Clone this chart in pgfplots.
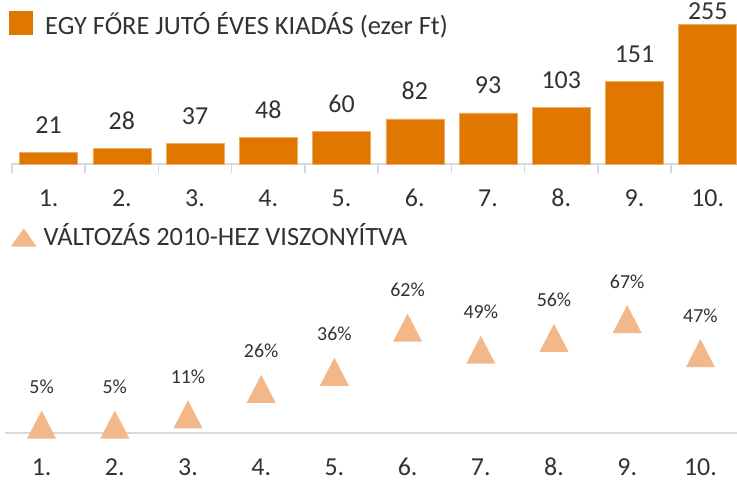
\documentclass[border=0pt]{standalone}
\usepackage{fontspec}
\setmainfont{Carlito}
\usepackage{pgfplots}
\pgfplotsset{compat=1.18}

\definecolor{barorange}{RGB}{224,120,0}
\definecolor{trilight}{RGB}{242,184,138}
\definecolor{txt}{RGB}{50,50,50}
\definecolor{axgray}{RGB}{217,217,217}

\newcommand\bigf{\fontsize{26}{31}\selectfont}
\newcommand\legf{\fontsize{26.5}{31}\selectfont}
\newcommand\pctf{\fontsize{20}{24}\selectfont}

% triangle centred on its bounding box, as Excel draws it
\pgfdeclareplotmark{tri}{%
  \pgfpathmoveto{\pgfpoint{-14.5bp}{-14bp}}%
  \pgfpathlineto{\pgfpoint{14.5bp}{-14bp}}%
  \pgfpathlineto{\pgfpoint{0bp}{14bp}}%
  \pgfpathclose\pgfusepathqfill}

\pgfplotsset{
  panel/.style={
    scale only axis, clip=false,
    axis x line*=bottom, axis y line=none,
    x axis line style={axgray, line width=2bp},
    xtick={0,...,9},
    xticklabels={1.,2.,3.,4.,5.,6.,7.,8.,9.,10.},
    major tick length=0bp,
    tick style={axgray, line width=1.5bp},
    /pgf/number format/assume math mode=true,
  },
}

\begin{document}
\begin{tikzpicture}
\useasboundingbox (0,0) rectangle (737bp,481bp);

% upper panel: yearly spending per head
\begin{axis}[panel,
  at={(12bp,317bp)}, anchor=south west,
  width=725bp, height=153.7bp,
  xmin=-0.5, xmax=9.4, ymin=0, ymax=280,
  xticklabel style={font=\bigf, text=txt, anchor=base, yshift=-43bp},
  extra x ticks={-0.5,0.5,1.5,2.5,3.5,4.5,5.5,6.5,7.5,8.5},
  extra x tick labels={},
  extra x tick style={major tick length=9bp, tick align=outside},
]
\addplot[ybar, bar shift=0pt, bar width=58bp, fill=barorange,
  draw=barorange!60!white, line width=0.5bp,
  nodes near coords,
  nodes near coords style={font=\bigf, text=txt, anchor=base, yshift=19bp}]
  coordinates {(0,21)(1,28)(2,37)(3,48)(4,60)(5,82)(6,93)(7,103)(8,151)};
\addplot[ybar, bar shift=0pt, bar width=58bp, fill=barorange,
  draw=barorange!60!white, line width=0.5bp,
  nodes near coords,
  nodes near coords style={font=\bigf, text=txt, anchor=base, yshift=5bp}]
  coordinates {(9,255)};
\end{axis}

% lower panel: change relative to 2010
\begin{axis}[panel,
  at={(5bp,48bp)}, anchor=south west,
  width=732bp, height=170bp,
  xmin=-0.5, xmax=9.5, ymin=0, ymax=100,
  xticklabel style={font=\bigf, text=txt, anchor=base, yshift=-42bp},
]
\addplot[only marks, mark=tri, mark options={fill=trilight, draw=none},
  nodes near coords={\pgfmathprintnumber{\pgfplotspointmeta}\%},
  nodes near coords style={font=\pctf, text=txt, anchor=base, yshift=31bp}]
  coordinates {(0,5)(1,5)(2,11)(3,26)(4,36)(5,62)(6,49)(7,56)(8,67)(9,47)};
\end{axis}

% legend-like headings
\fill[barorange] (9bp,446bp) rectangle (33bp,470bp);
\node[anchor=base west, inner sep=0pt, font=\legf, text=txt] at (45bp,446.7bp)
  {EGY FŐRE JUTÓ ÉVES KIADÁS (ezer Ft)};
\fill[trilight] (10.7bp,234.3bp) -- (36.7bp,234.3bp) -- (23.7bp,252.7bp) -- cycle;
\node[anchor=base west, inner sep=0pt, font=\legf, text=txt] at (43.3bp,235bp)
  {VÁLTOZÁS 2010-HEZ VISZONYÍTVA};
\end{tikzpicture}
\end{document}
